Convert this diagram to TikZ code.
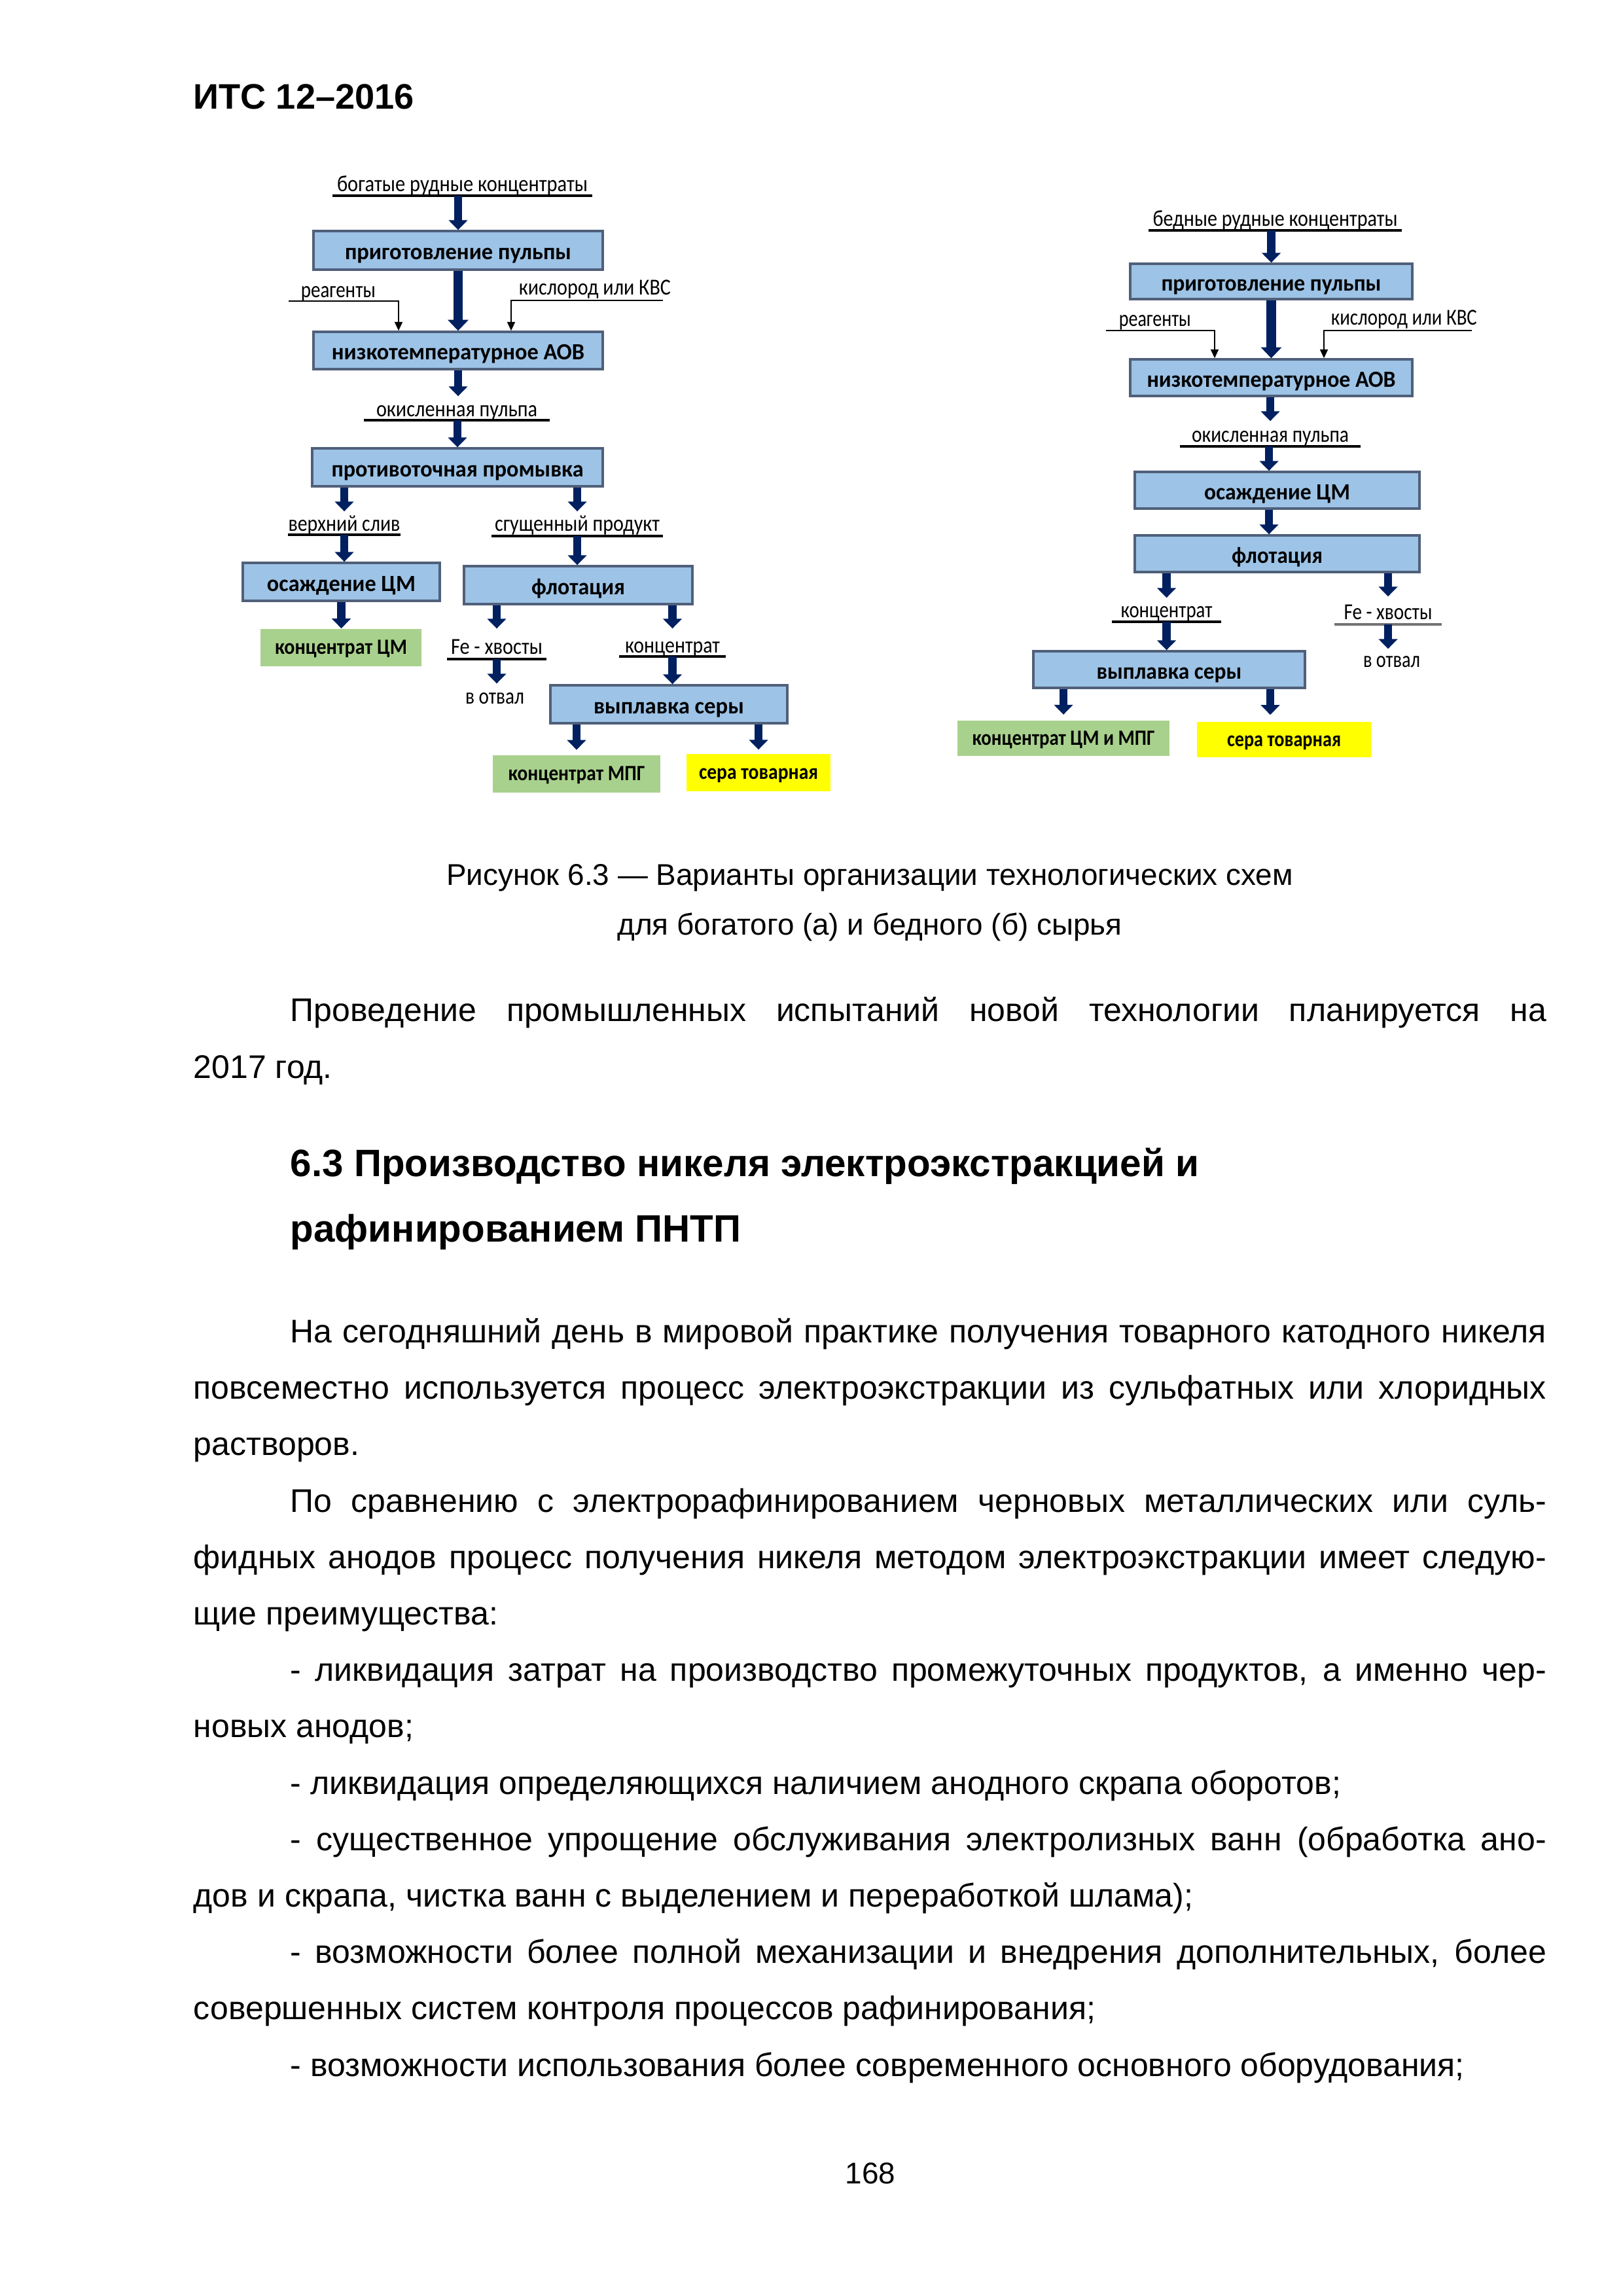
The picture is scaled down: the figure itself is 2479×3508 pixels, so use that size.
\documentclass[tikz,border=0pt]{standalone}
\usepackage{graphicx}
\usepackage{fontspec}
\setmainfont{Liberation Sans}
\newfontfamily\dg{Carlito}
\usetikzlibrary{arrows.meta}
\newdimen\pxu \pxu=0.24pt
\newcommand\fw[2]{\resizebox{#1\pxu}{\height}{#2}}
\newcommand\jl[1]{\makebox[460.6pt][s]{#1}}
\newcommand\jf[1]{\makebox[496.1pt][s]{#1}}
\definecolor{boxblue}{RGB}{157,195,230}
\definecolor{boxedge}{RGB}{80,96,122}
\definecolor{grn}{RGB}{169,209,142}
\definecolor{yel}{RGB}{255,255,0}
\definecolor{navy}{RGB}{0,32,96}
\begin{document}
\begin{tikzpicture}[x=0.24pt,y=-0.24pt,
  body/.style={inner sep=0pt, anchor=base west, font=\fontsize{12}{14}\selectfont},
  bbox/.style={draw=boxedge, line width=0.8pt, fill=boxblue, inner sep=0pt,
    text height=7.6pt, text depth=0.8pt, font=\dg\bfseries\fontsize{8.5}{10}\selectfont},
  gbox/.style={fill=grn, inner sep=0pt, text height=6pt, text depth=1.2pt,
    font=\dg\bfseries\fontsize{8}{10}\selectfont},
  ybox/.style={gbox, fill=yel},
  lab/.style={inner sep=0pt, anchor=south, font=\dg\fontsize{8.4}{10}\selectfont},
  uline/.style={draw=black, line width=0.8pt},
  arr/.style={draw=navy, line width=3pt, -{Triangle[width=6.8pt,length=3.6pt]}},
  bigarr/.style={draw=navy, line width=3.5pt, -{Triangle[width=7.4pt,length=4pt]}},
  thinarr/.style={draw=black, line width=0.6pt, -{Triangle[width=2.8pt,length=3.2pt]}}
]
\fill[white] (0,0) rectangle (2479,3508);
\useasboundingbox (0,0) rectangle (2479,3508);

% ---------- header ----------
\node[body, font=\bfseries\fontsize{13}{15}\selectfont] (hdr) at (295,167) {ИТС 12–2016};

% ---------- left diagram ----------
\node[bbox, minimum width=442*0.24pt, minimum height=59*0.24pt] (b1) at (700,382.5) {\fw{346}{приготовление пульпы}};
\node[bbox, minimum width=442*0.24pt, minimum height=57*0.24pt] (b2) at (700,535.5) {\fw{386}{низкотемпературное АОВ}};
\node[bbox, minimum width=444*0.24pt, minimum height=58*0.24pt] (b3) at (699,714) {\fw{385}{противоточная промывка}};
\node[bbox, minimum width=301*0.24pt, minimum height=58*0.24pt] (b4) at (521.5,889) {\fw{227}{осаждение ЦМ}};
\node[gbox, minimum width=246*0.24pt, minimum height=57*0.24pt] (g1) at (521,989.5) {\fw{202}{концентрат ЦМ}};
\node[bbox, minimum width=349*0.24pt, minimum height=58*0.24pt] (b5) at (883.5,894) {\fw{143}{флотация}};
\node[bbox, minimum width=362*0.24pt, minimum height=58*0.24pt] (b6) at (1022,1076) {\fw{230}{выплавка серы}};
\node[gbox, minimum width=256*0.24pt, minimum height=57*0.24pt] (g2) at (881,1182.5) {\fw{209}{концентрат МПГ}};
\node[ybox, minimum width=220*0.24pt, minimum height=57*0.24pt] (y1) at (1159,1180.5) {\fw{182}{сера товарная}};

\node[lab, minimum width=395*0.24pt, text height=20*0.24pt, text depth=6*0.24pt] (L1) at (706.5,299) {\fw{383}{богатые рудные концентраты}};
\node[lab, anchor=base west] (L2) at (459,455) {\fw{114}{реагенты}};
\node[lab, anchor=base west] (L3) at (792,451) {\fw{232}{кислород или КВС}};
\node[lab, minimum width=282*0.24pt, text height=30*0.24pt, text depth=5*0.24pt] (L4) at (698,642) {\fw{246}{окисленная пульпа}};
\node[lab, minimum width=170*0.24pt, text height=29*0.24pt, text depth=5*0.24pt] (L5) at (526,817) {\fw{171}{верхний слив}};
\node[lab, minimum width=260*0.24pt, text height=29*0.24pt, text depth=7*0.24pt] (L6) at (882,819) {\fw{252}{сгущенный продукт}};
\node[lab, minimum width=150*0.24pt, text height=38*0.24pt, text depth=7*0.24pt] (L7) at (759,1007) {\fw{140}{Fe - хвосты}};
\node[lab, text height=30*0.24pt, text depth=0pt] (L8) at (756,1076) {\fw{90}{в отвал}};
\node[lab, minimum width=161*0.24pt, text height=36*0.24pt, text depth=5*0.24pt] (L9) at (1027.5,1003) {\fw{145}{концентрат}};

\foreach \n in {L1,L4,L5,L6,L7,L9} \draw[uline] (\n.south west) -- (\n.south east);

\coordinate (r2s) at (441,460);
\coordinate (r2x) at (609,0);
\coordinate (k2s) at (1013,459);
\coordinate (k2x) at (781,0);
\draw[thinarr] (r2s) -| (b2.north -| r2x);
\draw[thinarr] (k2s) -| (b2.north -| k2x);

\draw[arr] (L1.south -| b1.north) -- (b1.north);
\draw[bigarr] (b1.south) -- (b2.north);
\draw[arr] (b2.south) -- (b2.south |- L4.north);
\draw[arr] (L4.south -| b3.north) -- (b3.north);
\draw[arr] (b3.south -| L5.north) -- (L5.north);
\draw[arr] (L5.south) -- (L5.south |- b4.north);
\draw[arr] (b4.south) -- (b4.south |- g1.north);
\draw[arr] (b3.south -| L6.north) -- (L6.north);
\draw[arr] (L6.south) -- (L6.south |- b5.north);
\draw[arr] (b5.south -| L7.north) -- (L7.north);
\draw[arr] (L7.south) -- (L7.south |- L8.north);
\draw[arr] (b5.south -| L9.north) -- (L9.north);
\draw[arr] (L9.south) -- (L9.south |- b6.north);
\draw[arr, shorten >=1.8pt] (b6.south -| g2.north) -- (g2.north);
\draw[arr, shorten >=1.4pt] (b6.south -| y1.north) -- (y1.north);

% ---------- right diagram ----------
\node[bbox, minimum width=431*0.24pt, minimum height=54*0.24pt] (R1) at (1942.5,430) {\fw{336}{приготовление пульпы}};
\node[bbox, minimum width=431*0.24pt, minimum height=56*0.24pt] (R2) at (1942.5,577) {\fw{380}{низкотемпературное АОВ}};
\node[bbox, minimum width=435*0.24pt, minimum height=56*0.24pt] (R3) at (1951.5,749) {\fw{223}{осаждение ЦМ}};
\node[bbox, minimum width=435*0.24pt, minimum height=56*0.24pt] (R4) at (1951.5,846) {\fw{139}{флотация}};
\node[bbox, minimum width=415*0.24pt, minimum height=56*0.24pt] (R5) at (1786.5,1023) {\fw{222}{выплавка серы}};
\node[gbox, minimum width=324*0.24pt, minimum height=54*0.24pt] (RG) at (1625,1128) {\fw{279}{концентрат ЦМ и МПГ}};
\node[ybox, minimum width=266*0.24pt, minimum height=54*0.24pt] (RY) at (1962,1130) {\fw{174}{сера товарная}};

\node[lab, minimum width=385*0.24pt, text height=20*0.24pt, text depth=6*0.24pt] (RL1) at (1948.5,352) {\fw{374}{бедные рудные концентраты}};
\node[lab, anchor=base west] (RL2) at (1709,499) {\fw{110}{реагенты}};
\node[lab, anchor=base west] (RL3) at (2033,497) {\fw{223}{кислород или КВС}};
\node[lab, minimum width=274*0.24pt, text height=31*0.24pt, text depth=6*0.24pt] (RL4) at (1941,682) {\fw{240}{окисленная пульпа}};
\node[lab, minimum width=165*0.24pt, text height=29*0.24pt, text depth=6*0.24pt] (RL5) at (1782.5,950) {\fw{140}{концентрат}};
\node[lab, minimum width=162*0.24pt, text height=34*0.24pt, text depth=7*0.24pt] (RL6) at (2121,954) {\fw{135}{Fe - хвосты}};
\node[lab, text height=27*0.24pt, text depth=0pt] (RL7) at (2126.5,1020) {\fw{87}{в отвал}};

\foreach \n in {RL1,RL4,RL5} \draw[uline] (\n.south west) -- (\n.south east);
\draw[uline, draw=black!55] (RL6.south west) -- (RL6.south east);

\coordinate (rr2s) at (1690,505);
\coordinate (rr2x) at (1856,0);
\coordinate (rk2s) at (2249,505);
\coordinate (rk2x) at (2023,0);
\coordinate (rcol) at (1939,0);
\coordinate (rycol) at (1941,0);
\draw[thinarr] (rr2s) -| (R2.north -| rr2x);
\draw[thinarr] (rk2s) -| (R2.north -| rk2x);

\draw[arr] (RL1.south -| R1.north) -- (R1.north);
\draw[bigarr] (R1.south) -- (R2.north);
\draw[arr] (R2.south -| RL4.north) -- (RL4.north);
\draw[arr] (RL4.south -| rcol) -- (R3.north -| rcol);
\draw[arr] (R3.south -| rcol) -- (R4.north -| rcol);
\draw[arr] (R4.south -| RL5.north) -- (RL5.north);
\draw[arr] (RL5.south) -- (RL5.south |- R5.north);
\draw[arr] (R4.south -| RL6.north) -- (RL6.north);
\draw[arr] (RL6.south) -- (RL6.south |- RL7.north);
\draw[arr, shorten >=2pt] (R5.south -| RG.north) -- (RG.north);
\draw[arr, shorten >=2.4pt] (R5.south -| rycol) -- (RY.north -| rycol);

% ---------- caption ----------
\node[body, anchor=base, font=\fontsize{11}{13}\selectfont] (cap1) at (1329,1352) {Рисунок 6.3 — Варианты организации технологических схем};
\node[body, anchor=base, font=\fontsize{11}{13}\selectfont] (cap2) at (1329,1428) {для богатого (а) и бедного (б) сырья};

% ---------- text ----------
\node[body] (p1a) at (443,1560) {\jl{Проведение промышленных испытаний новой технологии планируется на}};
\node[body] (p1b) at (295,1647) {2017 год.};

\node[body, font=\bfseries\fontsize{14}{16}\selectfont] (h1) at (443,1797) {6.3 Производство никеля электроэкстракцией и};
\node[body, font=\bfseries\fontsize{14}{16}\selectfont] (h2) at (443,1897) {рафинированием ПНТП};

\node[body] (t01) at (443,2051) {\jl{На сегодняшний день в мировой практике получения товарного катодного никеля}};
\node[body] (t02) at (295,2137) {\jf{повсеместно используется процесс электроэкстракции из сульфатных или хлоридных}};
\node[body] (t03) at (295,2223) {растворов.};
\node[body] (t04) at (443,2310) {\jl{По сравнению с электрорафинированием черновых металлических или суль-}};
\node[body] (t05) at (295,2396) {\jf{фидных анодов процесс получения никеля методом электроэкстракции имеет следую-}};
\node[body] (t06) at (295,2482) {щие преимущества:};
\node[body] (t07) at (443,2568) {\jl{- ликвидация затрат на производство промежуточных продуктов, а именно чер-}};
\node[body] (t08) at (295,2654) {новых анодов;};
\node[body] (t09) at (443,2741) {- ликвидация определяющихся наличием анодного скрапа оборотов;};
\node[body] (t10) at (443,2827) {\jl{- существенное упрощение обслуживания электролизных ванн (обработка ано-}};
\node[body] (t11) at (295,2913) {дов и скрапа, чистка ванн с выделением и переработкой шлама);};
\node[body] (t12) at (443,2999) {\jl{- возможности более полной механизации и внедрения дополнительных, более}};
\node[body] (t13) at (295,3085) {совершенных систем контроля процессов рафинирования;};
\node[body] (t14) at (443,3172) {- возможности использования более современного основного оборудования;};

\node[body, anchor=base, font=\fontsize{11}{13}\selectfont] (pg) at (1330,3336) {168};
\end{tikzpicture}
\end{document}
